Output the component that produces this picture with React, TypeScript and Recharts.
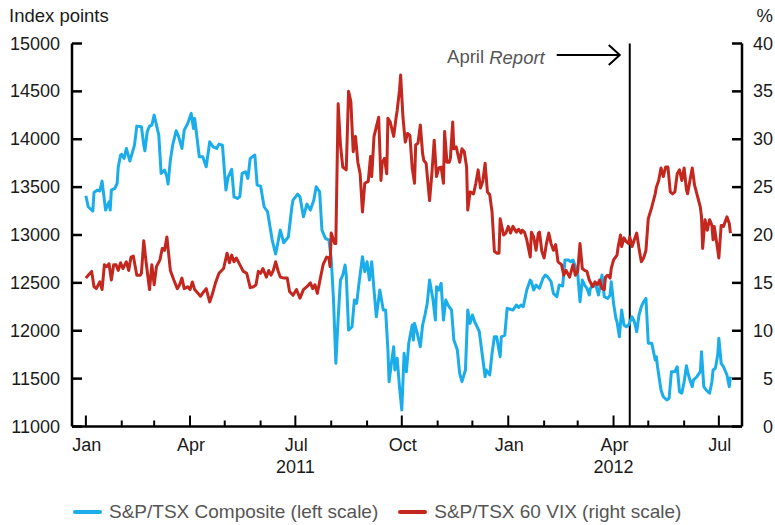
import { LineChart, Line, XAxis, YAxis, ReferenceLine } from 'recharts';

// days counted from 1 Jan 2011
const tsxDays = [
  0, 2, 6, 7, 10, 12, 14, 17, 20, 21,
  22, 25, 27, 28, 30, 31, 33, 35, 38, 42,
  44, 48, 50, 51, 53, 55, 57, 59, 61, 63,
  65, 68, 70, 71, 73, 75, 78, 80, 83, 85,
  88, 91, 93, 94, 98, 101, 104, 107, 110, 113,
  115, 118, 121, 123, 126, 128, 131, 133, 135, 138,
  140, 142, 146, 148, 151, 154, 157, 161, 164, 168,
  171, 175, 178, 179, 183, 185, 188, 191, 194, 197,
  199, 202, 204, 207, 210, 212, 214, 216, 218, 220,
  222, 224, 225, 227, 230, 232, 234, 236, 239, 241,
  243, 245, 247, 249, 251, 254, 257, 259, 261, 262,
  264, 266, 267, 269, 271, 273, 275, 277, 279, 282,
  283, 284, 286, 289, 291, 293, 295, 297, 300, 302,
  303, 305, 307, 309, 311, 313, 316, 318, 321, 323,
  325, 328, 330, 332, 334, 336, 338, 340, 342, 345,
  346, 349, 351, 353, 355, 358, 359, 362, 364, 367,
  369, 372, 374, 376, 378, 381, 384, 385, 387, 389,
  392, 395, 397, 399, 402, 404, 407, 409, 412, 414,
  417, 419, 421, 423, 425, 427, 429, 431, 433, 435,
  436, 438, 441, 443, 446, 448, 451, 453, 454, 456,
  458, 459, 461, 463, 465, 467, 469, 472, 474, 476,
  478, 480, 482, 484, 486, 489, 492, 493, 494, 497,
  499, 502, 504, 506, 509, 511, 513, 515, 517, 519,
  520, 522, 524, 525, 528, 531, 532, 534, 536, 539,
  541, 542, 544, 546, 547, 549, 551, 554, 556, 557,
];

const tsxValues = [
  13410, 13295, 13250, 13445, 13469, 13459, 13563, 13260, 13347, 13260,
  13469, 13487, 13539, 13712, 13835, 13842, 13800, 13904, 13772, 13939,
  14137, 14130, 13939, 13879, 14078, 14137, 14148, 14252, 14148, 14043,
  13643, 13678, 13608, 13532, 13782, 13939, 14088, 14033, 13904, 14095,
  14165, 14270, 14113, 14218, 13817, 13817, 13712, 13973, 13921, 13904,
  13949, 13939, 13469, 13608, 13685, 13399, 13382, 13399, 13643, 13660,
  13591, 13800, 13835, 13521, 13511, 13295, 13243, 12947, 12801, 13051,
  12919, 12982, 13295, 13365, 13427, 13399, 13190, 13323, 13260, 13365,
  13504, 13451, 13051, 12965, 12947, 12756, 12321, 11660, 12130, 12529,
  12582, 12686, 12582, 12007, 12042, 12321, 12286, 12495, 12773, 12616,
  12721, 12529, 12721, 12425, 12146, 12425, 12216, 12216, 11799, 11468,
  11660, 11833, 11590, 11712, 11416, 11172, 11764, 11572, 11869, 12060,
  11903, 12077, 11990, 11833, 12060, 12164, 12286, 12529, 12321, 12112,
  12460, 12425, 12495, 12112, 12321, 12268, 12216, 11903, 11799, 11555,
  11468, 11590, 12216, 12077, 12164, 12094, 12042, 11990, 11799, 11520,
  11590, 11538, 11764, 11937, 11937, 11729, 11937, 11955, 12234, 12224,
  12216, 12268, 12244, 12268, 12251, 12425, 12529, 12512, 12425, 12477,
  12443, 12547, 12582, 12564, 12512, 12391, 12355, 12477, 12467, 12738,
  12738, 12721, 12738, 12668, 12599, 12303, 12529, 12477, 12443, 12373,
  12443, 12477, 12460, 12373, 12582, 12355, 12338, 12373, 12512, 12286,
  12130, 12094, 11937, 12216, 12060, 12042, 12060, 12146, 12094, 11990,
  12164, 12251, 12303, 12338, 11869, 11869, 11694, 11729, 11624, 11381,
  11311, 11277, 11294, 11572, 11572, 11624, 11363, 11347, 11468, 11635,
  11572, 11485, 11416, 11485, 11520, 11572, 11781, 11416, 11381, 11347,
  11468, 11590, 11608, 11746, 11921, 11660, 11624, 11538, 11416, 11520,
];

const vixDays = [
  0, 2, 5, 7, 9, 12, 14, 16, 18, 20,
  22, 24, 26, 28, 30, 32, 35, 37, 39, 41,
  44, 47, 48, 50, 52, 55, 57, 59, 61, 64,
  66, 68, 70, 73, 76, 79, 81, 83, 85, 88,
  90, 92, 94, 97, 99, 102, 104, 107, 109, 112,
  115, 119, 122, 124, 126, 128, 130, 133, 136, 139,
  142, 145, 147, 149, 151, 153, 156, 158, 160, 162,
  164, 166, 168, 171, 174, 176, 179, 182, 185, 188,
  191, 194, 196, 198, 200, 202, 205, 208, 210, 211,
  212, 215, 216, 218, 220, 222, 225, 227, 229, 231,
  233, 235, 237, 239, 241, 244, 246, 247, 249, 251,
  253, 255, 256, 258, 260, 261, 263, 266, 268, 269,
  271, 272, 274, 276, 278, 280, 282, 284, 285, 287,
  289, 291, 292, 294, 297, 299, 301, 303, 305, 307,
  309, 310, 312, 314, 315, 317, 318, 320, 323, 325,
  327, 329, 330, 332, 335, 337, 339, 341, 343, 345,
  347, 349, 351, 353, 355, 357, 358, 361, 363, 365,
  367, 369, 372, 374, 376, 377, 379, 381, 384, 385,
  387, 389, 391, 392, 394, 396, 398, 400, 402, 404,
  406, 408, 411, 413, 415, 418, 421, 423, 425, 427,
  429, 431, 433, 435, 438, 440, 442, 444, 446, 448,
  449, 451, 453, 454, 456, 459, 460, 462, 463, 465,
  467, 469, 470, 472, 474, 476, 478, 480, 482, 484,
  486, 489, 492, 493, 495, 497, 499, 501, 503, 505,
  507, 509, 511, 513, 515, 517, 519, 520, 522, 524,
  526, 528, 531, 532, 533, 535, 537, 539, 541, 542,
  543, 545, 547, 549, 551, 554, 556, 557,
];

const vixValues = [
  15.5, 15.8, 16.2, 14.6, 14.4, 15.1, 14.3, 16.9, 16.7, 17.0,
  15.3, 16.9, 16.9, 16.3, 17.1, 16.5, 17.2, 16.3, 17.7, 17.8,
  15.8, 15.8, 16.0, 19.4, 17.2, 14.3, 16.9, 14.8, 16.7, 17.4,
  18.6, 18.4, 19.8, 16.3, 15.3, 14.4, 14.8, 15.5, 14.4, 14.6,
  14.3, 15.1, 14.3, 13.9, 13.6, 14.1, 14.4, 13.0, 13.7, 15.0,
  16.0, 16.5, 18.1, 17.1, 17.9, 17.2, 17.6, 16.9, 16.2, 16.0,
  14.5, 14.6, 14.8, 16.2, 16.0, 16.5, 15.6, 16.3, 15.8, 16.3,
  17.2, 16.3, 15.6, 15.5, 15.5, 14.1, 13.7, 14.3, 13.4, 14.3,
  14.6, 15.0, 14.4, 14.8, 13.9, 15.1, 16.9, 17.7, 17.6, 16.7,
  20.2, 19.1, 19.1, 33.7, 29.4, 27.1, 26.8, 35.0, 33.9, 28.7,
  30.3, 27.6, 26.4, 22.4, 25.4, 25.6, 28.2, 26.1, 30.3, 31.3,
  32.3, 25.7, 27.5, 28.0, 26.4, 32.2, 31.8, 30.3, 32.2, 33.0,
  35.1, 36.7, 32.3, 29.7, 30.6, 30.4, 27.0, 25.4, 29.4, 29.6,
  31.5, 28.5, 27.8, 27.5, 23.6, 26.4, 29.9, 26.1, 27.0, 27.1,
  25.4, 30.8, 27.6, 27.6, 28.0, 31.8, 29.0, 29.2, 27.6, 29.0,
  28.7, 27.1, 22.6, 24.5, 24.3, 25.4, 26.8, 24.9, 25.6, 27.5,
  24.5, 24.2, 22.4, 18.3, 18.1, 18.1, 21.7, 20.0, 20.2, 20.9,
  20.2, 20.9, 20.3, 20.6, 20.2, 20.5, 20.3, 19.5, 17.7, 20.3,
  19.8, 18.4, 20.2, 20.3, 18.3, 17.6, 19.1, 20.2, 19.1, 18.4,
  19.0, 17.2, 16.9, 15.8, 16.3, 15.6, 16.9, 15.8, 16.2, 19.1,
  16.5, 16.3, 16.2, 15.3, 14.6, 15.1, 14.8, 15.3, 14.4, 14.3,
  15.6, 15.8, 15.5, 16.5, 17.4, 17.9, 18.8, 20.0, 18.8, 19.7,
  19.3, 19.1, 19.8, 18.8, 19.5, 20.2, 18.6, 17.2, 17.6, 18.4,
  21.7, 22.9, 24.3, 25.0, 25.7, 27.0, 26.1, 27.1, 27.1, 24.5,
  24.3, 24.5, 26.4, 26.8, 25.7, 27.0, 24.7, 24.3, 25.7, 27.0,
  25.2, 24.3, 22.9, 21.9, 18.6, 21.6, 20.5, 21.6, 21.0, 19.5,
  20.9, 19.3, 17.6, 21.0, 20.9, 21.9, 21.2, 20.2,
];

const monthTicks = [0, 31, 59, 90, 120, 151, 181, 212, 243, 273, 304, 334, 365, 396, 425, 456, 486, 517, 547];
const monthLabels = ['Jan', '', '', 'Apr', '', '', 'Jul', '', '', 'Oct', '', '', 'Jan', '', '', 'Apr', '', '', 'Jul'];
const yearLabels = ['', '', '', '', '', '', '2011', '', '', '', '', '', '', '', '', '2012', '', '', ''];
const leftTicks = [11000, 11500, 12000, 12500, 13000, 13500, 14000, 14500, 15000];
const rightTicks = [0, 5, 10, 15, 20, 25, 30, 35, 40];
const reportDay = 470;

const BLUE = '#1badea';
const RED = '#c3271e';
const FONT = '"Liberation Sans", Arial, Helvetica, sans-serif';
const TEXT = '#1a1a1a';
const GREY = '#555555';

const tsxData = tsxDays.map((d, i) => ({ day: d, value: tsxValues[i] }));
const vixData = vixDays.map((d, i) => ({ day: d, value: vixValues[i] }));

const LeftTick = (props: any) => {
  const { x, y, payload } = props;
  return (
    <g>
      <line x1={x} x2={x + 10} y1={y} y2={y} stroke="#000" strokeWidth={2.5} />
      <text x={x - 12} y={y} textAnchor="end" dominantBaseline="central" fontSize={18} fill={TEXT} fontFamily={FONT}>
        {payload.value}
      </text>
    </g>
  );
};

const RightTick = (props: any) => {
  const { x, y, payload } = props;
  return (
    <g>
      <line x1={x - 10} x2={x} y1={y} y2={y} stroke="#000" strokeWidth={2.5} />
      <text x={x + 31} y={y} textAnchor="end" dominantBaseline="central" fontSize={18} fill={TEXT} fontFamily={FONT}>
        {payload.value}
      </text>
    </g>
  );
};

const MonthTick = (props: any) => {
  const { x, y, payload } = props;
  const i = monthTicks.indexOf(payload.value);
  const label = monthLabels[i] || '';
  const year = yearLabels[i] || '';
  const major = label !== '';
  return (
    <g>
      <line x1={x} x2={x} y1={y} y2={y - (major ? 11 : 6)} stroke="#000" strokeWidth={2} />
      {major && (
        <text x={x + 1} y={y + 18} textAnchor="middle" dominantBaseline="central" fontSize={18} fill={TEXT} fontFamily={FONT}>
          {label}
        </text>
      )}
      {year && (
        <text x={x} y={y + 40} textAnchor="middle" dominantBaseline="central" fontSize={18} fill={TEXT} fontFamily={FONT}>
          {year}
        </text>
      )}
    </g>
  );
};

const ReportLabel = (props: any) => {
  const { viewBox } = props;
  if (!viewBox) return null;
  const x = viewBox.x;
  const y = viewBox.y;
  return (
    <g>
      <text x={x - 85} y={y + 13} textAnchor="end" dominantBaseline="central" fontSize={18.5} fill={GREY} fontFamily={FONT}>
        April <tspan fontStyle="italic">Report</tspan>
      </text>
      <line x1={x - 73} x2={x - 10} y1={y + 11.5} y2={y + 11.5} stroke="#000" strokeWidth={2} />
      <polyline
        points={`${x - 21},${y + 1.5} ${x - 10},${y + 11.5} ${x - 21},${y + 21.5}`}
        fill="none"
        stroke="#000"
        strokeWidth={2}
      />
    </g>
  );
};

const Swatch = ({ color }: { color: string }) => (
  <span style={{ display: 'inline-block', width: 29, height: 4, borderRadius: 2, background: color, marginRight: 7 }} />
);

export default function App() {
  return (
    <div style={{ position: 'absolute', left: 0, top: 0, width: 775, height: 525, background: '#fff', fontFamily: FONT }}>
      <div style={{ position: 'absolute', left: 9, top: 5, fontSize: 18.5, lineHeight: '22px', color: TEXT }}>Index points</div>
      <div style={{ position: 'absolute', right: 2, top: 5, fontSize: 18.5, lineHeight: '22px', color: TEXT }}>%</div>
      <LineChart width={775} height={525} margin={{ top: 43.5, right: 0, bottom: 0, left: 0 }}>
        <XAxis
          dataKey="day"
          type="number"
          domain={[-12, 567]}
          allowDataOverflow
          ticks={monthTicks}
          interval={0}
          height={98.5}
          tickSize={0}
          tickMargin={0}
          tickLine={false}
          tick={<MonthTick />}
          axisLine={{ stroke: '#000', strokeWidth: 2.5 }}
        />
        <YAxis
          yAxisId="left"
          orientation="left"
          width={72}
          domain={[11000, 15000]}
          ticks={leftTicks}
          interval={0}
          allowDataOverflow
          tickSize={0}
          tickMargin={0}
          tickLine={false}
          tick={<LeftTick />}
          axisLine={{ stroke: '#000', strokeWidth: 2.5 }}
        />
        <YAxis
          yAxisId="right"
          orientation="right"
          width={33}
          domain={[0, 40]}
          ticks={rightTicks}
          interval={0}
          allowDataOverflow
          tickSize={0}
          tickMargin={0}
          tickLine={false}
          tick={<RightTick />}
          axisLine={{ stroke: '#000', strokeWidth: 2.5 }}
        />
        <ReferenceLine x={reportDay} yAxisId="left" stroke="#000" strokeWidth={2} label={<ReportLabel />} />
        <Line
          data={tsxData}
          yAxisId="left"
          dataKey="value"
          name="S&P/TSX Composite (left scale)"
          stroke={BLUE}
          strokeWidth={3}
          dot={false}
          activeDot={false}
          strokeLinejoin="round"
          isAnimationActive={false}
        />
        <Line
          data={vixData}
          yAxisId="right"
          dataKey="value"
          name="S&P/TSX 60 VIX (right scale)"
          stroke={RED}
          strokeWidth={3}
          dot={false}
          activeDot={false}
          strokeLinejoin="round"
          isAnimationActive={false}
        />
      </LineChart>
      <div
        style={{
          position: 'absolute',
          left: 73,
          top: 500,
          height: 24,
          display: 'flex',
          alignItems: 'center',
          fontSize: 19,
          color: GREY,
          whiteSpace: 'nowrap',
        }}
      >
        <Swatch color={BLUE} />
        <span>S&amp;P/TSX Composite (left scale)</span>
        <span style={{ display: 'inline-block', width: 20 }} />
        <Swatch color={RED} />
        <span>S&amp;P/TSX 60 VIX (right scale)</span>
      </div>
    </div>
  );
}
